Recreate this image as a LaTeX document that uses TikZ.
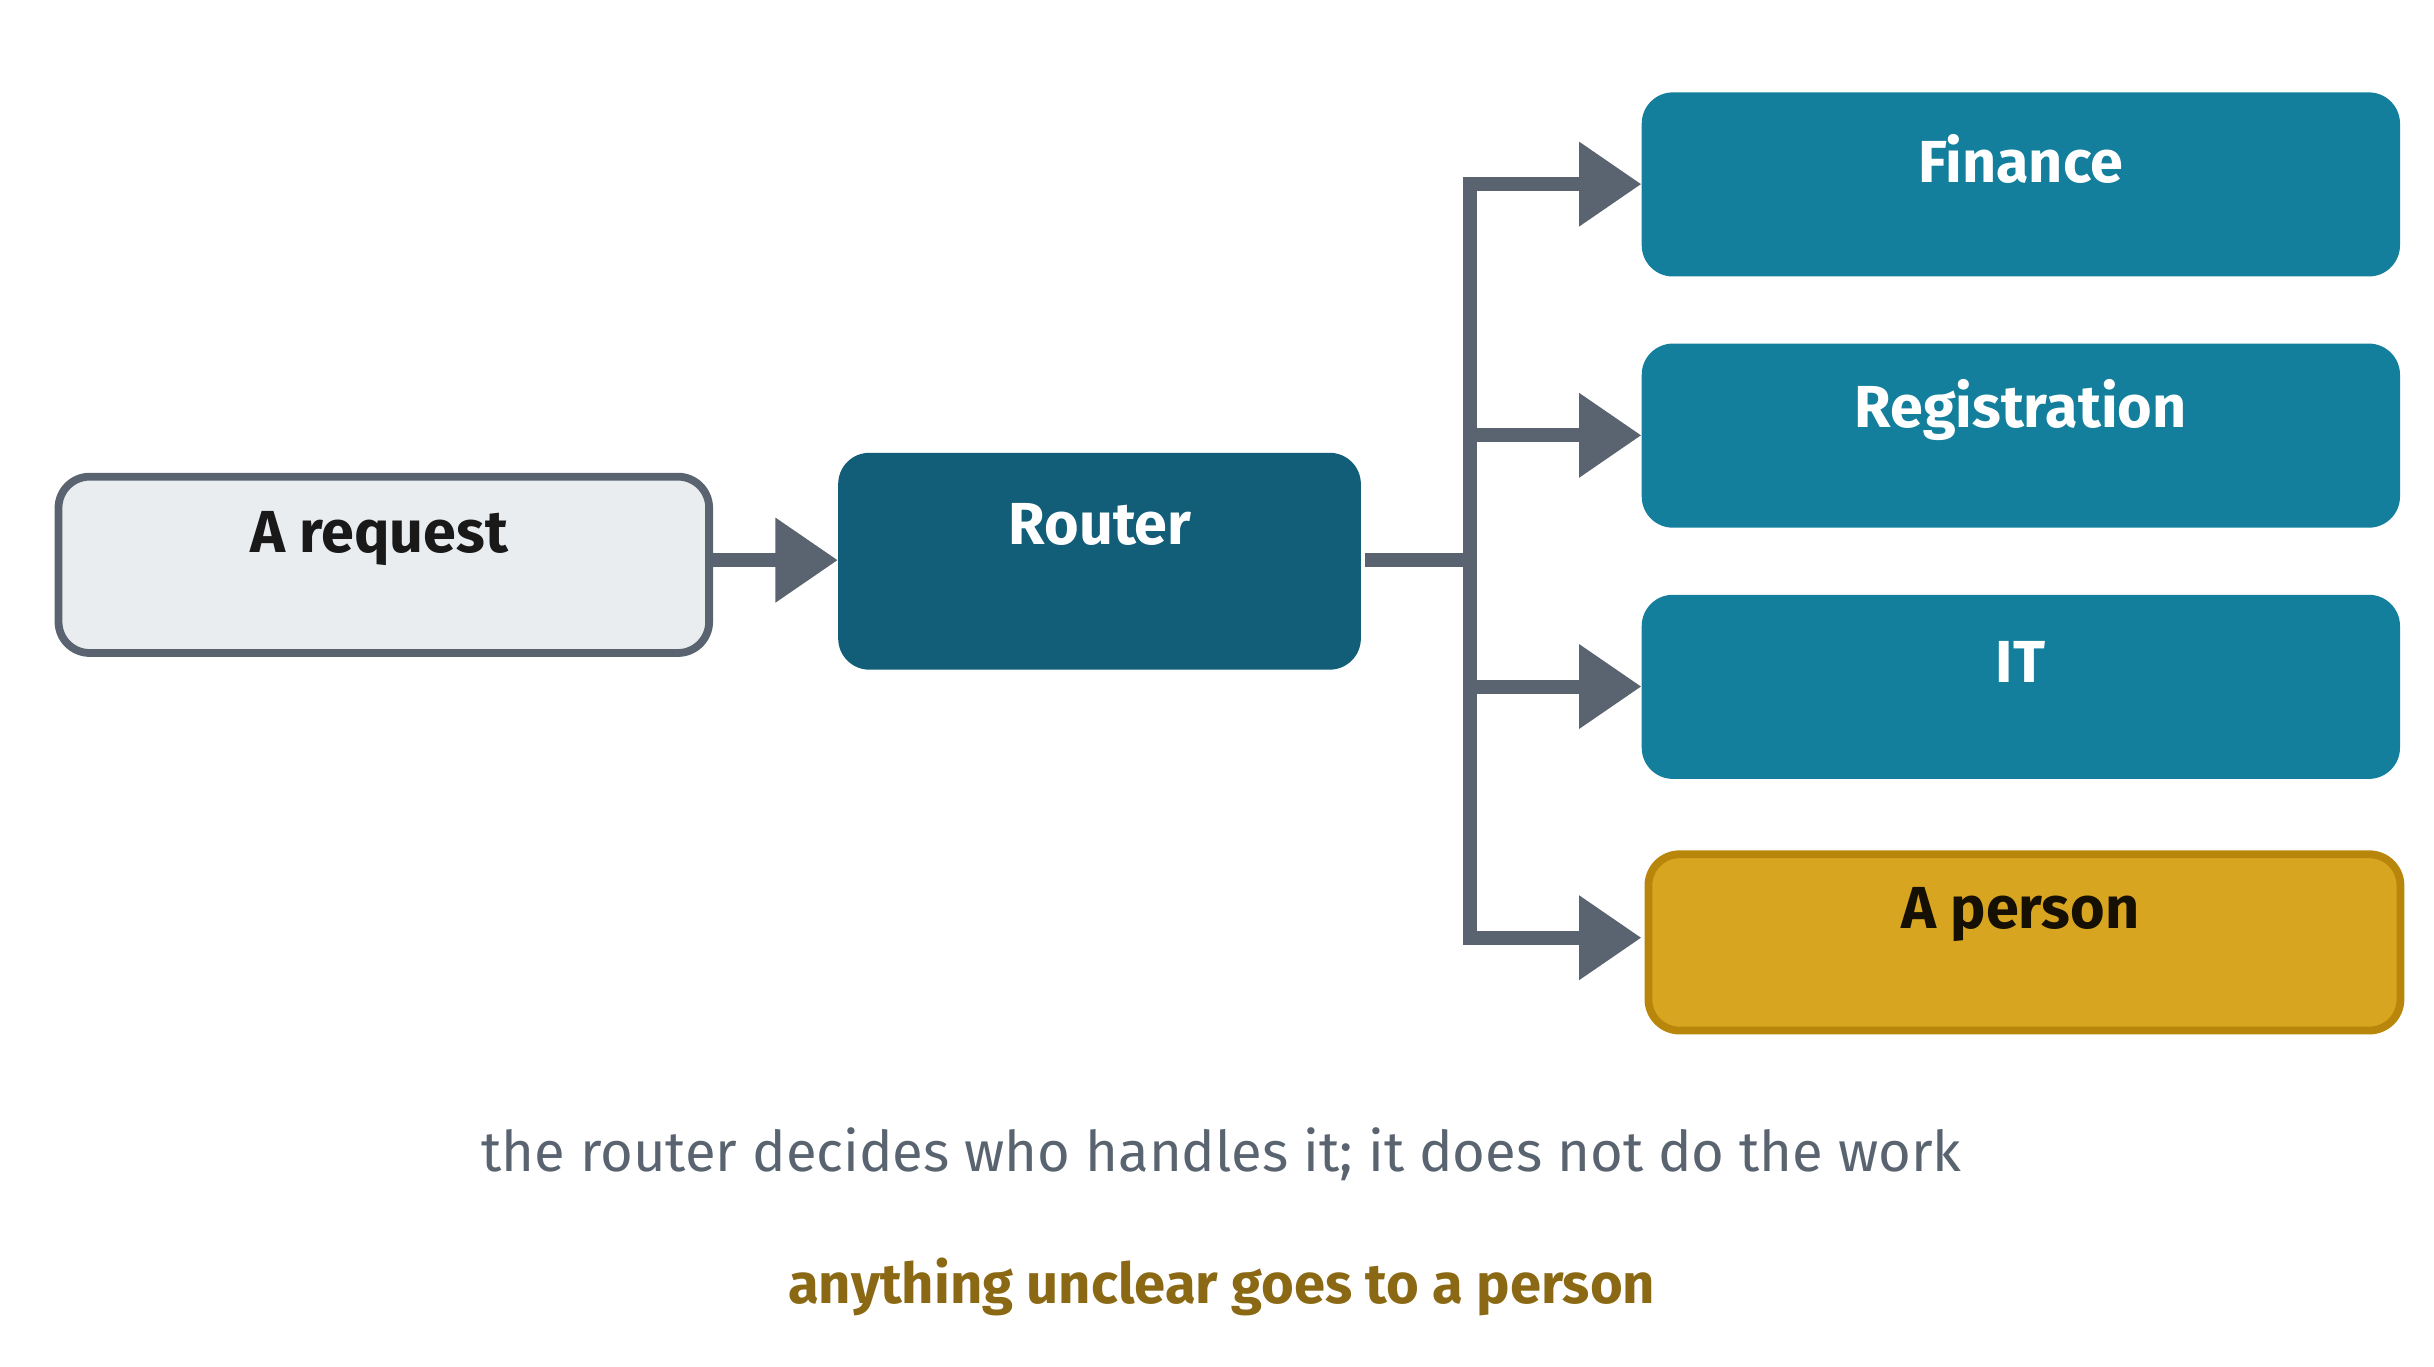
\documentclass[tikz,border=0pt]{standalone}
\usepackage{fontspec}
\setmainfont{Fira Sans}
\usetikzlibrary{arrows.meta}
\definecolor{gline}{HTML}{5A6470}
\definecolor{lightf}{HTML}{E9EDF0}
\definecolor{router}{HTML}{125E78}
\definecolor{teal}{HTML}{137F9C}
\definecolor{gold}{HTML}{D8A520}
\definecolor{goldb}{HTML}{B8860B}
\definecolor{goldt}{HTML}{8B6914}
\begin{document}
\begin{tikzpicture}[x=1pt,y=-1pt,
  box/.style={rounded corners=20pt,inner sep=0pt,anchor=north west},
  lab/.style={font=\fontsize{38}{44}\selectfont\bfseries},
  conn/.style={draw=gline,line width=9pt},
  arr/.style={conn,-{Triangle[length=40pt,width=52pt]}}]
\useasboundingbox (0,0) rectangle (1560,876);
\node[box,draw=gline,line width=5pt,fill=lightf,minimum width=417pt,minimum height=113pt] (req) at (35,303) {};
\node[lab,text=black!90] at (243,345) {A request};
\node[box,fill=router,minimum width=335pt,minimum height=139pt] (rt) at (537,290) {};
\node[lab,text=white] at (705,336) {Router};
\foreach \n/\t/\y in {fin/Finance/59,reg/Registration/220,it/IT/381}{
  \node[box,fill=teal,minimum width=486pt,minimum height=118pt] (\n) at (1052,\y) {};
  \node[lab,text=white] at (1295,\y+43) {\t};
}
\node[box,draw=goldb,line width=5pt,fill=gold,minimum width=482pt,minimum height=113pt] (per) at (1054,545) {};
\node[lab,text=black!85!goldt] at (1295,586) {A person};
\coordinate (ra) at (462,359);
\draw[arr] (ra) -- (req.east |- ra) ++(0,0) -- (rt.west |- ra);
\coordinate (bt) at (942,118);
\coordinate (bb) at (942,601);
\draw[conn] (875,359) -- (942,359);
\draw[conn,line cap=rect] (bt) -- (bb);
\foreach \n/\y in {fin/118,reg/279,it/440,per/601}{
  \coordinate (s\n) at (942,\y);
  \draw[arr] (s\n) -- (1052,\y);
}
\node[text=gline,font=\fontsize{36}{42}\selectfont] (c1) at (783,740) {the router decides who handles it; it does not do the work};
\node[text=goldt,font=\fontsize{36}{42}\selectfont\bfseries] (c2) at (783,825) {anything unclear goes to a person};
\end{tikzpicture}
\end{document}
